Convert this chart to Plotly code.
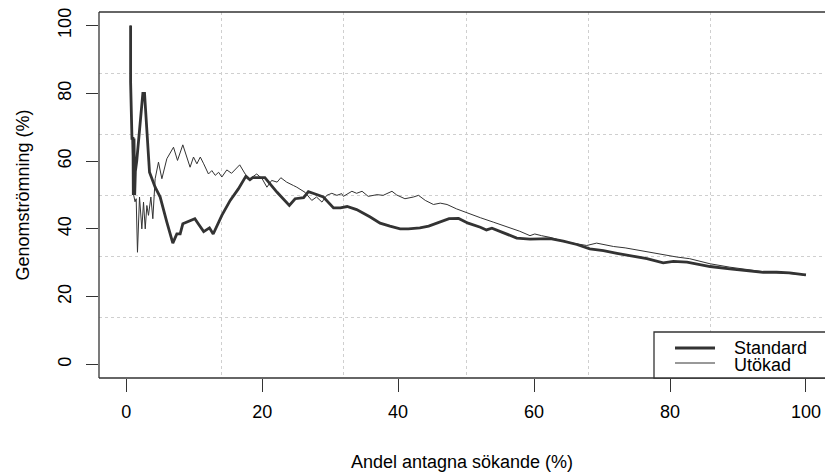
import plotly.graph_objects as go

# ---- data ----
x_std = [0.65, 0.65, 0.85, 1.0, 1.05, 1.15, 1.25, 1.35, 1.55, 2.0, 2.45, 2.7, 3.04, 3.43, 4.26,
         5.0, 5.98, 6.86, 7.45, 7.94, 8.33, 9.4, 10.1, 10.6, 11.4, 12.25, 12.8, 14.07, 15.3, 16.5,
         17.6, 18.2, 18.6, 20.4, 22.2, 24.0, 24.85, 26.1, 26.8, 27.8, 29.0, 30.5, 31.5, 32.5, 33.9,
         35.9, 37.35, 38.8, 40.3, 41.5, 43.2, 44.5, 46.0, 47.5, 48.9, 50.3, 52.1, 53.0, 53.8, 55.25,
         57.45, 59.4, 61.4, 62.4, 64.3, 66.3, 68.2, 70.2, 72.2, 74.1, 76.6, 79.0, 80.5, 82.5, 84.4,
         85.9, 88.8, 91.8, 93.7, 95.7, 97.6, 99.6, 100.0]
y_std = [100, 83.3, 66.7, 66.7, 50, 66.7, 50, 57, 60, 70, 80, 80, 70.5, 56.7, 52.3,
         49.4, 42, 35.8, 38.5, 38.5, 41.5, 42.5, 43, 41.5, 39.2, 40.3, 38.5, 44, 48.4, 51.8,
         55.5, 54.5, 55.1, 55.1, 50.8, 46.9, 48.9, 49.2, 51, 50.3, 49.4, 46.2, 46.2, 46.6, 45.7,
         43.5, 41.7, 40.8, 40, 40, 40.3, 40.8, 42, 43, 43.1, 41.7, 40.5, 39.7, 40.2, 39,
         37.3, 37, 37, 37.1, 36.4, 35.4, 34.1, 33.6, 32.8, 32.2, 31.2, 30, 30.4, 30.2, 29.4,
         28.9, 28.2, 27.7, 27.2, 27.2, 27, 26.5, 26.4]

x_ut = [0.65, 0.65, 0.85, 1.1, 1.3, 1.47, 1.66, 1.96, 2.3, 2.55, 2.8, 3.04, 3.28, 3.63, 3.92,
        4.26, 4.75, 5.25, 5.98, 6.96, 7.55, 8.33, 9.4, 9.9, 10.4, 10.9, 11.4, 12.1, 12.6, 13.1,
        13.6, 14.07, 14.8, 15.5, 16.7, 17.5, 18.2, 19.2, 20.0, 20.7, 21.4, 22.2, 22.75, 23.6, 24.6,
        25.1, 26.3, 27.3, 28.0, 28.8, 29.5, 30.25, 31.0, 31.7, 31.95, 33.2, 33.9, 34.7, 35.6, 36.9,
        37.8, 39.1, 39.8, 41.0, 42.25, 43.0, 44.0, 45.2, 46.2, 47.2, 48.6, 50.1, 52.1, 54.0, 56.0,
        57.9, 59.4, 60.1, 61.1, 62.35, 64.8, 67.75, 69.2, 71.7, 73.4, 75.1, 77.1, 79.0, 81.0, 82.9,
        85.9, 88.8, 91.8, 94.0, 96.5, 98.5, 100.0]
y_ut = [100, 83.3, 66.7, 50, 48, 48.9, 33.1, 49.4, 40, 47.9, 40, 46.9, 44, 49.4, 43,
        54.8, 59.7, 54.8, 60.7, 64.1, 60.2, 64.8, 58.2, 61.2, 59.2, 61.2, 59.2, 56.2, 57.2, 55.8,
        56.7, 55.3, 57.4, 56.4, 58.9, 56.2, 54.8, 56.2, 54.8, 52.3, 54.3, 53.8, 55.1, 53.8, 52.8,
        52.3, 50.8, 48.4, 49.4, 47.9, 49.9, 50.5, 49.9, 50.4, 49.6, 51.1, 50.5, 51.1, 49.6, 50.1,
        49.9, 51.1, 50, 48.9, 49.4, 49.9, 48.4, 47.2, 47.6, 47.2, 45.9, 44.7, 43.3, 42, 40.7,
        39.3, 38, 38.5, 38, 37.5, 36.1, 35.1, 35.8, 34.8, 34.4, 33.8, 32.9, 32.2, 31.7, 31.2,
        29.7, 28.7, 27.9, 27.3, 27.0, 26.7, 26.4]

x_ticks = [0, 20, 40, 60, 80, 100]
y_ticks = [0, 20, 40, 60, 80, 100]
series_names = ["Standard", "Utökad"]
x_title = "Andel antagna sökande (%)"
y_title = "Genomströmning (%)"

FONT = "Liberation Sans, Arial, Helvetica, sans-serif"
INK = "#333333"

fig = go.Figure()
fig.add_trace(go.Scatter(x=x_ut, y=y_ut, mode="lines", name=series_names[1],
                         line=dict(color=INK, width=1)))
fig.add_trace(go.Scatter(x=x_std, y=y_std, mode="lines", name=series_names[0],
                         line=dict(color=INK, width=2.8)))

fig.update_layout(
    width=825, height=472,
    margin=dict(l=99, r=0, t=12, b=94),
    plot_bgcolor="white", paper_bgcolor="white",
    showlegend=False,
    font=dict(family=FONT, size=18, color="black"),
)

grid = dict(tick0=14, dtick=18, showgrid=True, gridcolor="#cfcfcf",
            griddash="dot", gridwidth=1, ticks="")

fig.update_xaxes(range=[-4, 102.8], tickmode="array", tickvals=x_ticks,
                 ticktext=[str(v) for v in x_ticks],
                 ticks="outside", ticklen=13, tickwidth=1.3, tickcolor=INK,
                 showline=False, showgrid=False, zeroline=False, automargin=False,
                 ticklabelstandoff=4,
                 minor=grid,
                 title=dict(text=x_title, standoff=34, font=dict(size=18)))
fig.update_yaxes(range=[-4, 104], tickmode="array", tickvals=y_ticks,
                 ticktext=[str(v) for v in y_ticks],
                 ticks="outside", ticklen=12, tickwidth=1.3, tickcolor=INK,
                 tickangle=-90,
                 showline=False, showgrid=False, zeroline=False, automargin=False,
                 ticklabelstandoff=8,
                 minor=grid,
                 title=dict(text=y_title, standoff=20, font=dict(size=18)))

# plot box (left, top, bottom; right edge lies beyond the cropped image)
box = dict(type="line", xref="paper", yref="paper", line=dict(color=INK, width=1.3), layer="above")
fig.add_shape(**box, x0=0, x1=0, y0=0, y1=1)
fig.add_shape(**box, x0=0, x1=1, y0=1, y1=1)
fig.add_shape(**box, x0=0, x1=1, y0=0, y1=0)

# legend box (bottom-right, extends past the right edge)
W, H, L, T = 726.0, 366.0, 99.0, 12.0
def px(xp): return (xp - L) / W
def py(yp): return (T + H - yp) / H

fig.add_shape(type="rect", xref="paper", yref="paper", x0=px(654), x1=1.05, y0=0, y1=py(332),
              fillcolor="white", line=dict(color=INK, width=1.3), layer="above")
fig.add_shape(type="line", xref="paper", yref="paper", x0=px(675), x1=px(715), y0=py(348), y1=py(348),
              line=dict(color=INK, width=2.8), layer="above")
fig.add_shape(type="line", xref="paper", yref="paper", x0=px(675), x1=px(715), y0=py(363), y1=py(363),
              line=dict(color=INK, width=1), layer="above")
fig.add_annotation(x=px(732), y=py(348), xref="paper", yref="paper", text=series_names[0],
                   showarrow=False, xanchor="left", yanchor="middle", font=dict(size=18, color="black"))
fig.add_annotation(x=px(732), y=py(365), xref="paper", yref="paper", text=series_names[1],
                   showarrow=False, xanchor="left", yanchor="middle", font=dict(size=18, color="black"))

fig.write_html("out.html")
